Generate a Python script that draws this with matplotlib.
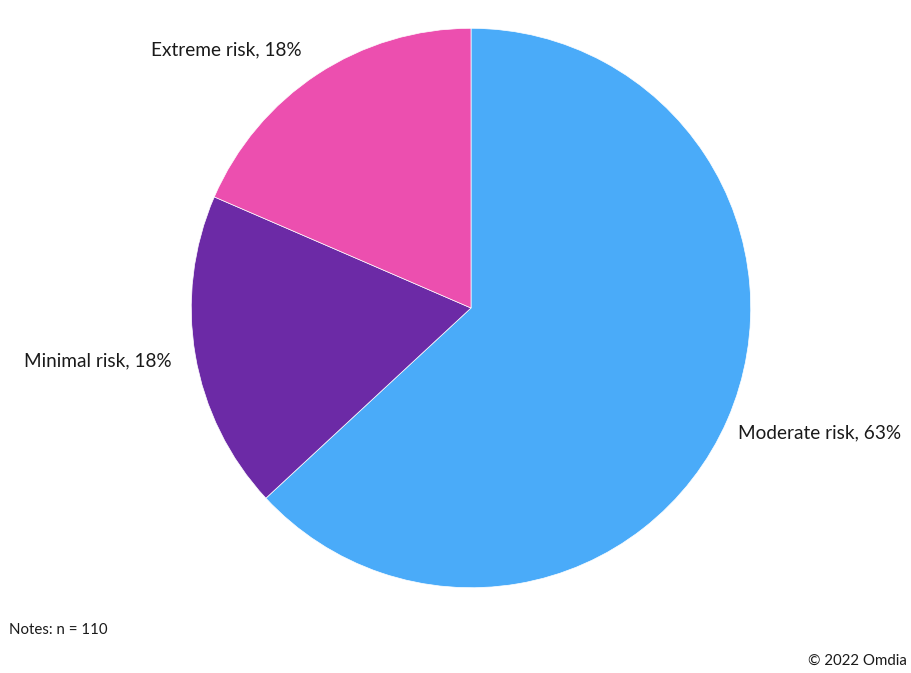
import matplotlib
matplotlib.use("Agg")
import matplotlib.pyplot as plt

# risk categories, share of respondents (n = 110)
categories = ["Moderate risk", "Minimal risk", "Extreme risk"]
shares = [63.1, 18.4, 18.5]
shown_pct = ["63%", "18%", "18%"]
colors = ["#4AABF9", "#6C2AA6", "#EC4FAF"]

plt.rcParams['font.family'] = ['Lato', 'DejaVu Sans']

W, H = 911, 673
fig = plt.figure(figsize=(W / 100, H / 100), dpi=100)

cx, cy, r = 471, 308, 280
ax = fig.add_axes([(cx - r) / W, (H - cy - r) / H, 2 * r / W, 2 * r / H])
ax.pie(shares, colors=colors, startangle=90, counterclock=False, radius=1,
       wedgeprops=dict(edgecolor="white", linewidth=0.5))
ax.set_xlim(-1.001, 1.001)
ax.set_ylim(-1.001, 1.001)
ax.set_aspect("equal")
ax.axis("off")

# label positions in pixels (left x, centre y)
label_pos = {"Moderate risk": (738, 433), "Minimal risk": (24, 361), "Extreme risk": (151, 50)}
for cat, pct in zip(categories, shown_pct):
    x, y = label_pos[cat]
    fig.text(x / W, 1 - y / H, f"{cat}, {pct}", fontsize=13.7, color="#1a1a1a",
             ha="left", va="center")

fig.text(9 / W, 1 - 630 / H, "Notes: n = 110", fontsize=10.8, color="#1a1a1a",
         ha="left", va="center")
fig.text(907 / W, 1 - 661 / H, "\u00a9 2022 Omdia", fontsize=10.8, color="#1a1a1a",
         ha="right", va="center")

fig.savefig("out.png", dpi=100, facecolor="white")
